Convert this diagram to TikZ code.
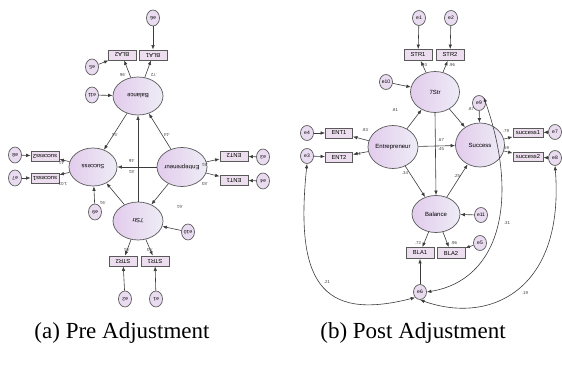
\documentclass[tikz,border=0pt]{standalone}
\usepackage{fontspec}
\setmainfont{Liberation Serif}
\newfontfamily\diagfont{Liberation Sans}
\usetikzlibrary{arrows.meta,shapes.geometric}
\definecolor{latL}{RGB}{226,204,236}
\definecolor{latR}{RGB}{238,236,246}
\definecolor{boxfill}{RGB}{236,222,238}
\definecolor{errfill}{RGB}{234,220,240}
\definecolor{ink}{RGB}{60,60,60}
\definecolor{bord}{RGB}{90,90,90}
\tikzset{
  latent/.style={ellipse, draw=bord, line width=0.7pt, left color=latL, right color=latR,
    inner sep=0pt, font=\diagfont\fontsize{6}{6}\selectfont},
  obsbox/.style={rectangle, draw=bord, line width=0.8pt, fill=boxfill, minimum width=28pt,
    minimum height=10pt, inner sep=0pt, font=\diagfont\fontsize{5.8}{6}\selectfont},
  errc/.style={ellipse, draw=bord, line width=0.7pt, fill=errfill, minimum width=13pt,
    minimum height=16pt, inner sep=0pt, font=\diagfont\fontsize{5}{5}\selectfont},
  arr/.style={draw=ink, line width=0.6pt, -{Latex[length=4.5pt,width=3.5pt]}},
  darr/.style={draw=ink, line width=0.6pt, {Latex[length=4.5pt,width=3.5pt]}-{Latex[length=4.5pt,width=3.5pt]}},
  wt/.style={font=\diagfont\fontsize{4.3}{4.3}\selectfont, text=ink, inner sep=0pt},
  captext/.style={font=\fontsize{23}{23}\selectfont, anchor=base, inner sep=0pt}
}
\begin{document}
\begin{tikzpicture}[x=1pt,y=-1pt]
\useasboundingbox (0,0) rectangle (562,379);

% ================= (a) Pre Adjustment (rotated 180) =================
\begin{scope}[every node/.append style={rotate=180}]
\node[errc] (ae6) at (153,18) {e6};
\node[obsbox] (aBLA1) at (153,55) {BLA1};
\node[obsbox] (aBLA2) at (122,55) {BLA2};
\node[errc] (ae5) at (92,67) {e5};
\node[latent, minimum width=50pt, minimum height=38pt] (aBal) at (138,96) {Balance};
\node[errc] (ae11) at (92,95) {e11};
\node[latent, minimum width=48pt, minimum height=38pt] (aSuc) at (93,167) {Success};
\node[latent, minimum width=50pt, minimum height=39pt] (aEnt) at (182,167) {Entrepreneur};
\node[errc] (ae8) at (15,155) {e8};
\node[errc] (ae7) at (15,178) {e7};
\node[obsbox] (asuc2) at (45,156) {success2};
\node[obsbox] (asuc1) at (45,178) {success1};
\node[obsbox] (aENT2) at (234,156) {ENT2};
\node[obsbox] (aENT1) at (234,180) {ENT1};
\node[errc] (ae3) at (263,157) {e3};
\node[errc] (ae4) at (263,181) {e4};
\node[latent, minimum width=50pt, minimum height=38pt] (aStr) at (138,221) {7Str};
\node[errc] (ae10) at (188,232) {e10};
\node[errc] (ae9) at (95,212) {e9};
\node[obsbox] (aSTR2) at (123,261) {STR2};
\node[obsbox] (aSTR1) at (155,261) {STR1};
\node[errc] (ae2) at (125,299) {e2};
\node[errc] (ae1) at (156,299) {e1};

\draw[arr] (ae6) -- (aBLA1);
\draw[arr] (ae5) -- (aBLA2);
\draw[arr] (aBal) -- (aBLA1);
\draw[arr] (aBal) -- (aBLA2);
\draw[arr] (ae11) -- (aBal);
\draw[arr] (aStr) -- (aBal);
\draw[arr] (aEnt) -- (aBal);
\draw[arr] (aBal) -- (aSuc);
\draw[arr] (aEnt) -- (aSuc);
\draw[arr] (aEnt) -- (aStr);
\draw[arr] (aStr) -- (aSuc);
\draw[arr] (ae9) -- (aSuc);
\draw[arr] (ae10) -- (aStr);
\draw[arr] (aStr) -- (aSTR1);
\draw[arr] (aStr) -- (aSTR2);
\draw[arr] (ae1) -- (aSTR1);
\draw[arr] (ae2) -- (aSTR2);
\draw[arr] (aEnt) -- (aENT1);
\draw[arr] (aEnt) -- (aENT2);
\draw[arr] (ae3) -- (aENT2);
\draw[arr] (ae4) -- (aENT1);
\draw[arr] (aSuc) -- (asuc1);
\draw[arr] (aSuc) -- (asuc2);
\draw[arr] (ae7) -- (asuc1);
\draw[arr] (ae8) -- (asuc2);

\node[wt] (al1) at (123,75) {.96};
\node[wt] (al2) at (154,75) {.72};
\node[wt] (al3) at (115,135) {.51};
\node[wt] (al4) at (167,135) {.44};
\node[wt] (al5) at (132,161) {.46};
\node[wt] (al6) at (132,172) {.81};
\node[wt] (al7) at (62,163) {.41};
\node[wt] (al8) at (63,184) {1.03};
\node[wt] (al9) at (205,165) {.81};
\node[wt] (al10) at (205,184) {.83};
\node[wt] (al11) at (103,203) {.91};
\node[wt] (al12) at (180,207) {.61};
\node[wt] (al13) at (127,250) {.91};
\node[wt] (al14) at (150,250) {.93};
\end{scope}

% ================= (b) Post Adjustment =================
\node[errc, minimum width=13pt, minimum height=15pt] (be1) at (419,18) {e1};
\node[errc, minimum width=13pt, minimum height=15pt] (be2) at (451,18) {e2};
\node[obsbox, minimum height=11pt] (bSTR1) at (418,55) {STR1};
\node[obsbox, minimum height=11pt] (bSTR2) at (450,55) {STR2};
\node[latent, minimum width=49pt, minimum height=41pt] (bStr) at (435,92) {7Str};
\node[errc, minimum width=13pt, minimum height=15pt] (be10) at (386,82) {e10};
\node[errc, minimum width=13pt, minimum height=15pt] (be9) at (479,103) {e9};
\node[latent, minimum width=49pt, minimum height=44pt] (bSuc) at (480,145) {Success};
\node[latent, minimum width=50pt, minimum height=43pt] (bEnt) at (393,147) {Entrepreneur};
\node[obsbox, minimum width=27pt] (bENT1) at (339,133) {ENT1};
\node[obsbox, minimum width=27pt] (bENT2) at (339,157) {ENT2};
\node[errc, minimum width=13pt, minimum height=15pt] (be4) at (307,133) {e4};
\node[errc, minimum width=13pt, minimum height=15pt] (be3) at (307,156) {e3};
\node[obsbox, minimum width=30pt, minimum height=9pt] (bsuc1) at (528,133) {success1};
\node[obsbox, minimum width=30pt, minimum height=9pt] (bsuc2) at (528,157) {success2};
\node[errc, minimum width=13pt, minimum height=15pt] (be7) at (555,132) {e7};
\node[errc, minimum width=13pt, minimum height=15pt] (be8) at (555,158) {e8};
\node[latent, minimum width=48pt, minimum height=37pt] (bBal) at (436,214) {Balance};
\node[errc, minimum width=13pt, minimum height=15pt] (be11) at (481,215) {e11};
\node[obsbox, minimum height=11pt] (bBLA1) at (420,253) {BLA1};
\node[obsbox, minimum height=11pt] (bBLA2) at (451,253) {BLA2};
\node[errc, minimum width=13pt, minimum height=15pt] (be5) at (480,243) {e5};
\node[errc, minimum width=13pt, minimum height=15pt] (be6) at (420,292) {e6};

\draw[arr] (be1) -- (bSTR1);
\draw[arr] (be2) -- (bSTR2);
\draw[arr] (bStr) -- (bSTR1);
\draw[arr] (bStr) -- (bSTR2);
\draw[arr] (be10) -- (bStr);
\draw[arr] (bEnt) -- (bStr);
\draw[arr] (bStr) -- (bSuc);
\draw[arr] (bEnt) -- (bSuc);
\draw[arr] (bStr.south) -- (bBal.north);
\draw[arr] (bEnt) -- (bBal);
\draw[arr] (bBal) -- (bSuc);
\draw[arr] (be9) -- (bSuc);
\draw[arr] (bEnt) -- (bENT1);
\draw[arr] (bEnt) -- (bENT2);
\draw[arr] (be4) -- (bENT1);
\draw[arr] (be3) -- (bENT2);
\draw[arr] (bSuc) -- (bsuc1);
\draw[arr] (bSuc) -- (bsuc2);
\draw[arr] (be7) -- (bsuc1);
\draw[arr] (be8) -- (bsuc2);
\draw[arr] (be11) -- (bBal);
\draw[arr] (bBal) -- (bBLA1);
\draw[arr] (bBal) -- (bBLA2);
\draw[arr] (be5) -- (bBLA2);
\draw[arr] (be6) -- (bBLA1);

% covariances
\draw[darr] (be3.south) .. controls (295,280) and (320,322) .. (be6.south west);
\draw[darr] (be8.south) .. controls (565,290) and (490,325) .. (be6.south);
\draw[darr] (be9.north east) .. controls (520,200) and (500,280) .. (be6.east);

\node[wt] (bl1) at (424,65) {.93};
\node[wt] (bl2) at (452,65) {.96};
\node[wt] (bl3) at (395,110) {.81};
\node[wt] (bl4) at (365,130) {.83};
\node[wt] (bl5) at (358,154) {.81};
\node[wt] (bl6) at (471,109) {.87};
\node[wt] (bl7) at (441,140) {.67};
\node[wt] (bl8) at (441,149) {.45};
\node[wt] (bl9) at (405,173) {.34};
\node[wt] (bl10) at (457,176) {.25};
\node[wt] (bl11) at (418,243) {.72};
\node[wt] (bl12) at (454,243) {.96};
\node[wt] (bl13) at (506,131) {.79};
\node[wt] (bl14) at (506,148) {.59};
\node[wt] (bl15) at (327,282) {.21};
\node[wt] (bl16) at (507,223) {.31};
\node[wt] (bl17) at (525,293) {.19};

% captions
\node[captext] (capa) at (122,338) {(a) Pre Adjustment};
\node[captext] (capb) at (413,338) {(b) Post Adjustment};
\end{tikzpicture}
\end{document}
